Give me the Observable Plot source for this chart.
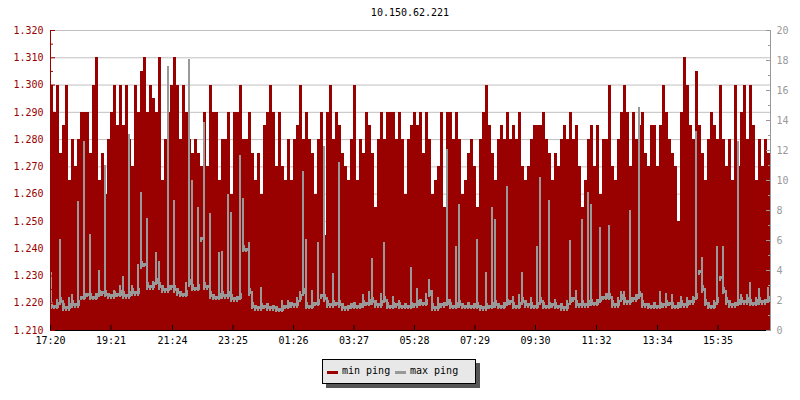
<!DOCTYPE html>
<html>
<head>
<meta charset="utf-8">
<script src="https://cdn.jsdelivr.net/npm/d3@7"></script>
<script src="https://cdn.jsdelivr.net/npm/@observablehq/plot@0.6"></script>
<style>
  body { margin: 0; background: #fff; font-family: "DejaVu Sans Mono", monospace; }
  #wrap { position: relative; width: 800px; height: 400px; overflow: hidden; }
  #title { position: absolute; left: 50px; width: 720px; top: 7px; text-align: center; font-size: 10px; line-height: 12px; color: #000; }
  #legend { position: absolute; left: 322px; top: 359px; width: 152px; height: 23px; background: #e8e8e8; border: 1px solid #000; box-shadow: 4px 4px 0 #555; font-size: 10px; }
  #legend .sw { position: absolute; top: 11px; width: 11px; height: 3px; }
  #legend .lb { position: absolute; top: 5px; line-height: 12px; color: #000; }
</style>
</head>
<body>
<div id="wrap">
  <div id="chart"></div>
  <div id="title"></div>
  <div id="legend"></div>
</div>
<script>
const chartTitle = "10.150.62.221";
const seriesNames = ["min ping", "max ping"];
const seriesColors = ["#990000", "#999999"];
const startLabel = "17:20";
const timeLabels = ["17:20","19:21","21:24","23:25","01:26","03:27","05:28","07:29","09:30","11:32","13:34","15:35"];
const leftTicks = [1.21,1.22,1.23,1.24,1.25,1.26,1.27,1.28,1.29,1.30,1.31,1.32];
const leftMinor = [1.215,1.225,1.235,1.245,1.255,1.265,1.275,1.285,1.295,1.305,1.315];
const rightTicks = [0,2,4,6,8,10,12,14,16,18,20];
const rightMinor = [1,3,5,7,9,11,13,15,17,19];

// min ping (left axis), one value per 6-minute sample
const minPing = [
1.300,1.290,1.300,1.275,1.285,1.300,1.265,1.280,1.270,1.280,
1.290,1.290,1.290,1.275,1.300,1.310,1.265,1.275,1.260,1.280,
1.290,1.300,1.285,1.300,1.285,1.300,1.280,1.270,1.300,1.290,
1.305,1.310,1.290,1.300,1.295,1.290,1.310,1.265,1.280,1.290,
1.300,1.310,1.300,1.280,1.300,1.290,1.280,1.275,1.280,1.275,
1.270,1.290,1.270,1.300,1.290,1.290,1.265,1.280,1.280,1.290,
1.260,1.290,1.290,1.300,1.280,1.280,1.290,1.275,1.265,1.275,
1.260,1.285,1.290,1.300,1.290,1.270,1.290,1.270,1.265,1.280,
1.265,1.280,1.285,1.300,1.280,1.290,1.280,1.275,1.260,1.280,
1.290,1.245,1.290,1.300,1.280,1.290,1.285,1.275,1.270,1.265,
1.280,1.300,1.265,1.280,1.275,1.290,1.285,1.275,1.255,1.280,
1.290,1.280,1.290,1.290,1.290,1.280,1.290,1.280,1.260,1.280,
1.285,1.290,1.285,1.290,1.275,1.290,1.280,1.260,1.265,1.270,
1.290,1.255,1.290,1.290,1.280,1.290,1.280,1.260,1.265,1.275,
1.280,1.270,1.255,1.280,1.290,1.300,1.285,1.275,1.265,1.280,
1.285,1.280,1.290,1.280,1.285,1.280,1.290,1.270,1.265,1.270,
1.280,1.285,1.285,1.285,1.290,1.280,1.275,1.265,1.275,1.270,
1.280,1.285,1.280,1.290,1.280,1.285,1.270,1.255,1.265,1.280,
1.285,1.270,1.285,1.260,1.280,1.280,1.300,1.270,1.265,1.280,
1.290,1.300,1.290,1.270,1.290,1.280,1.285,1.290,1.275,1.270,
1.285,1.285,1.270,1.285,1.300,1.290,1.280,1.275,1.270,1.250,
1.290,1.310,1.300,1.285,1.280,1.305,1.285,1.275,1.265,1.280,
1.290,1.285,1.280,1.300,1.280,1.270,1.280,1.265,1.300,1.270,
1.290,1.300,1.280,1.300,1.285,1.265,1.280,1.270,1.280,1.275
];

// max ping (right axis)
const maxPing = [
3.9,1.7,2.1,6.1,2.0,1.6,2.2,2.4,1.8,8.6,
2.3,12.6,2.5,6.4,2.3,2.5,4.0,2.6,11.0,2.5,
2.4,2.7,2.5,3.0,3.6,2.4,13.1,3.0,2.6,4.4,
9.2,4.5,7.5,3.0,3.3,5.2,4.6,3.0,2.8,17.6,
3.0,8.7,2.8,2.6,2.5,3.2,18.1,10.0,2.9,8.2,
6.2,13.9,3.0,7.8,2.4,2.3,5.2,5.3,2.4,9.1,
7.9,2.2,2.3,11.7,8.8,5.5,5.9,2.6,1.7,1.6,
2.9,1.7,1.8,1.6,1.7,1.6,1.5,2.0,1.7,2.0,
1.9,1.8,2.2,2.6,10.6,6.1,1.7,2.7,1.9,5.9,
2.4,12.3,2.2,1.8,3.8,1.9,11.2,1.8,1.6,1.7,
1.8,1.9,1.7,1.8,2.4,1.9,2.6,4.8,2.0,1.8,
2.5,5.9,2.1,1.7,2.3,1.8,2.0,1.7,1.8,1.7,
4.2,1.8,2.8,2.1,1.9,2.5,3.4,2.7,1.6,2.2,
1.8,1.9,12.1,2.1,1.7,5.6,8.4,1.8,1.7,1.9,
1.7,1.8,6.1,1.7,1.6,3.9,1.7,8.2,7.4,1.8,
1.7,1.9,9.6,2.0,2.3,1.7,2.4,3.9,2.0,1.8,
2.2,1.7,5.6,10.2,2.0,1.7,8.7,1.8,2.1,1.7,
1.8,1.6,2.0,6.0,2.2,2.7,1.8,7.4,1.8,9.2,
8.4,1.9,2.1,6.9,2.3,2.5,7.0,2.3,1.8,2.2,
2.6,2.6,2.0,8.0,2.2,2.4,14.9,2.5,1.8,1.8,
1.7,1.9,1.7,2.6,1.8,2.5,1.9,2.4,1.7,1.9,
2.3,1.8,2.2,2.0,2.3,13.3,4.0,4.9,2.8,1.9,
1.7,2.0,5.6,3.6,5.6,2.7,2.0,1.8,1.9,12.6,
2.4,2.0,2.4,3.2,1.9,2.2,2.8,2.0,2.1,2.9
];

const [sh, sm] = startLabel.split(":").map(Number);
const start = Date.UTC(2020, 0, 1, sh, sm);
const stepMs = 6 * 60 * 1000;
const n = minPing.length;
const rows = minPing.map((m, i) => {
  const prev = maxPing[Math.max(0, i - 1)], next = maxPing[Math.min(n - 1, i + 1)];
  return {
    t0: new Date(start + i * stepMs),
    t1: new Date(start + (i + 1) * stepMs),
    min: m,
    max: maxPing[i],
    // a dense polyline renders as vertical strokes spanning neighbouring samples
    maxLow: Math.min(prev, maxPing[i], next)
  };
});
const end = new Date(start + n * stepMs);
const yLo = leftTicks[0], yHi = leftTicks[leftTicks.length - 1];
const rHi = rightTicks[rightTicks.length - 1];
const toLeft = v => yLo + v * (yHi - yLo) / rHi;
const fromLeft = d => Math.round((d - yLo) * rHi / (yHi - yLo));
const tickDates = timeLabels.map(s => {
  const [h, m] = s.split(":").map(Number);
  let d = Date.UTC(2020, 0, 1, h, m);
  if (d < start) d += 86400000;
  return new Date(d);
});
const blank = () => "";

const chart = Plot.plot({
  width: 800, height: 400,
  marginTop: 30, marginBottom: 70, marginLeft: 50, marginRight: 30,
  style: { fontFamily: "DejaVu Sans Mono, monospace", fontSize: "10px", background: "white", overflow: "visible" },
  x: { type: "utc", domain: [new Date(start), end], axis: null },
  y: { domain: [yLo, yHi], axis: null },
  marks: [
    Plot.ruleY(leftTicks.slice(1), { stroke: "#c0c0c0", strokeWidth: 1 }),
    Plot.rect(rows, { x1: "t0", x2: "t1", y1: () => yLo, y2: "min", fill: seriesColors[0], shapeRendering: "crispEdges" }),
    Plot.rect(rows, { x1: "t0", x2: "t1", insetRight: 1, y1: d => toLeft(d.maxLow - 0.3), y2: d => toLeft(d.max), fill: seriesColors[1], shapeRendering: "crispEdges" }),
    Plot.rect(rows, { x1: "t0", x2: "t1", y1: d => toLeft(d.maxLow - 0.2), y2: d => toLeft(Math.min(d.max, d.maxLow + 0.2)), fill: seriesColors[1], shapeRendering: "crispEdges" }),
    Plot.ruleX([new Date(start)], { stroke: seriesColors[0] }),
    Plot.ruleX([end], { stroke: "#999999" }),
    Plot.ruleY([yLo], { stroke: "#000" }),
    // left axis
    Plot.axisY(leftTicks, { anchor: "left", tickSize: 0, tickPadding: 7, tickFormat: d3.format(".3f"), color: seriesColors[0], label: null }),
    Plot.axisY(leftTicks, { anchor: "left", tickSize: -5, tickFormat: blank, color: seriesColors[0], label: null }),
    Plot.axisY(leftMinor, { anchor: "left", tickSize: -3, tickFormat: blank, color: seriesColors[0], label: null }),
    // right axis
    Plot.axisY(rightTicks.map(toLeft), { anchor: "right", tickSize: 0, tickPadding: 6, tickFormat: d => String(fromLeft(d)), color: "#999999", label: null }),
    Plot.axisY(rightTicks.map(toLeft), { anchor: "right", tickSize: -5, tickFormat: blank, color: "#999999", label: null }),
    Plot.axisY(rightMinor.map(toLeft), { anchor: "right", tickSize: -3, tickFormat: blank, color: "#999999", label: null }),
    // bottom axis
    Plot.axisX(tickDates, { anchor: "bottom", tickSize: 0, tickPadding: 6, tickFormat: d3.utcFormat("%H:%M"), color: "#000", label: null }),
    Plot.axisX(tickDates, { anchor: "bottom", tickSize: -5, tickFormat: blank, color: "#000", label: null })
  ]
});
document.getElementById("chart").appendChild(chart);
document.getElementById("title").textContent = chartTitle;

const legend = document.getElementById("legend");
const pos = [{ sw: 4, lb: 19 }, { sw: 72, lb: 87 }];
seriesNames.forEach((name, i) => {
  const sw = document.createElement("div");
  sw.className = "sw"; sw.style.left = pos[i].sw + "px"; sw.style.background = seriesColors[i];
  const lb = document.createElement("div");
  lb.className = "lb"; lb.style.left = pos[i].lb + "px"; lb.textContent = name;
  legend.appendChild(sw); legend.appendChild(lb);
});
</script>
</body>
</html>
